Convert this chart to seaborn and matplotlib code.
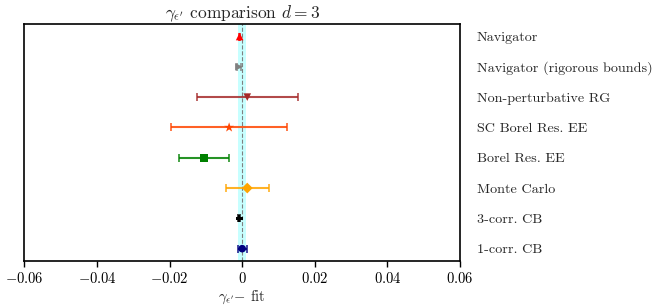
"""gamma_epsilon' comparison plot, d = 3."""

import matplotlib
matplotlib.use("Agg")
import matplotlib.pyplot as plt
import numpy as np
import pandas as pd
import seaborn as sns
from matplotlib.ticker import FixedLocator, FuncFormatter

# data, top to bottom as shown
methods = ["Navigator", "Navigator (rigorous bounds)", "Non-perturbative RG", "SC Borel Res. EE",
           "Borel Res. EE", "Monte Carlo", "3-corr. CB", "1-corr. CB"]
deviation = [-0.0007, -0.0009, 0.0014, -0.0036, -0.0105, 0.0014, -0.0008, 0.0000]
error = [0.0001, 0.0005, 0.0139, 0.0160, 0.0070, 0.0059, 0.0003, 0.0012]
colors = ["red", "gray", "brown", "orangered", "green", "orange", "black", "navy"]
markers = ["^", ">", "v", "*", "s", "D", "P", "o"]
sizes = [30, 30, 30, 55, 30, 30, 25, 30]
fit_band = 0.0011
xticks = [-0.06, -0.04, -0.02, 0.0, 0.02, 0.04, 0.06]

sns.set_theme(style="ticks")
plt.rcParams.update({"font.family": "serif", "font.serif": ["cmr10"], "mathtext.fontset": "cm",
                     "axes.formatter.use_mathtext": True, "axes.unicode_minus": True,
                     "axes.edgecolor": "black", "axes.linewidth": 1.2})

df = pd.DataFrame({"method": methods, "dev": deviation, "err": error, "size": sizes})
df["y"] = np.arange(len(df))[::-1]

fig, ax = plt.subplots(figsize=(6.59, 3.05), dpi=100)
ax.axvspan(-fit_band, fit_band, color="cyan", alpha=0.22, lw=0, zorder=0)
ax.axvline(0, color="gray", ls="--", lw=0.8, zorder=1)

for (_, r), c in zip(df.iterrows(), colors):
    ax.errorbar(r["dev"], r["y"], xerr=r["err"], fmt="none", ecolor=c, elinewidth=1.5,
                capsize=3, capthick=1.2, alpha=0.85, zorder=2)
sns.scatterplot(data=df, x="dev", y="y", hue="method", style="method", size="method",
                palette=dict(zip(methods, colors)), markers=dict(zip(methods, markers)),
                sizes=dict(zip(methods, sizes)), edgecolor="none", legend=False, ax=ax, zorder=3)

ax.set_xlim(-0.06, 0.06)
ax.set_ylim(-0.4, len(df) - 0.6)
ax.xaxis.set_major_locator(FixedLocator(xticks))
ax.xaxis.set_major_formatter(FuncFormatter(lambda v, _: "$0$" if abs(v) < 1e-12 else f"${v:.2f}$"))
ax.yaxis.tick_right()
ax.set_yticks(df["y"])
ax.set_yticklabels(df["method"], fontsize=10.2)
ax.tick_params(axis="y", length=0, pad=12)
ax.tick_params(axis="x", labelsize=10.5, length=4, width=1, direction="out", colors="black")
ax.set_xlabel(r"$\gamma_{\epsilon'}$$-$ fit", fontsize=10.5, labelpad=2)
ax.set_ylabel("")
ax.set_title(r"$\gamma_{\epsilon'}$ comparison $d=3$", fontsize=12.5, pad=3)

fig.subplots_adjust(left=0.037, right=0.698, top=0.92, bottom=0.145)
fig.savefig("out.png", dpi=100)
plt.close(fig)
